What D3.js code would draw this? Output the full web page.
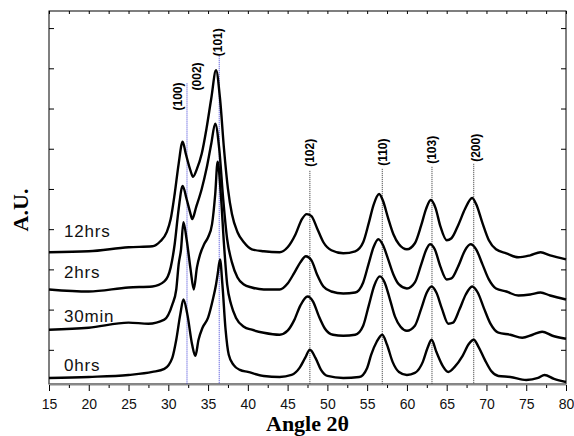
<!DOCTYPE html>
<html>
<head>
<meta charset="utf-8">
<script src="https://cdn.jsdelivr.net/npm/d3@7"></script>
<style>
  body { margin: 0; background: #fff; }
  svg { display: block; }
</style>
</head>
<body>
<div id="chart"></div>
<script>
// XRD patterns, intensities in a.u. (curves already stacked as drawn)
const curve0hrs = [[15,12],[20,13],[25,15],[28,18],[29.5,21],[30.5,32],[31,50],[31.5,75],[31.9,90],[32.4,75],[33,45],[33.4,34],[33.8,50],[34.3,62],[35,72],[35.6,90],[36.0,105],[36.2,115],[36.5,130],[36.8,105],[37.2,60],[37.6,35],[38.2,25],[39,20],[40,18],[42,14],[44,13],[45.5,15],[46.5,22],[47.2,32],[47.8,40],[48.5,32],[49.2,20],[50,14],[52,12],[54,13],[55,22],[55.5,35],[56.2,48],[56.9,55],[57.5,45],[58.2,28],[59,18],[60,15],[61,17],[62,28],[62.6,42],[63.1,50],[63.7,38],[64.5,24],[65.2,18],[66,23],[67,34],[67.8,46],[68.4,50],[69,43],[69.8,30],[70.6,19],[71.5,14],[73,13],[75,10],[76.5,12],[77.3,15],[78.5,11],[80,8]];
const curve30min = [[15,60],[20,62],[25,67],[27.5,66],[29.5,70],[30.5,85],[31,100],[31.3,125],[31.6,140],[31.9,167],[32.3,150],[32.8,120],[33.2,100],[33.6,122],[34.0,135],[34.5,145],[35.0,152],[35.5,165],[35.9,195],[36.2,227],[36.6,195],[37.0,145],[37.4,105],[37.9,85],[38.5,72],[39.5,63],[40.5,60],[42,57],[44,55],[45,59],[45.8,69],[46.6,84],[47.5,93],[48.2,88],[48.9,74],[49.7,61],[50.7,55],[52,54],[53.5,55],[54.5,64],[55.2,84],[55.9,104],[56.6,113],[57.2,107],[57.8,92],[58.5,73],[59.2,63],[60,59],[61,64],[61.8,81],[62.5,97],[63.1,103],[63.7,97],[64.4,81],[65.2,66],[65.8,67],[66.6,80],[67.4,95],[68.2,103],[68.9,97],[69.7,81],[70.5,66],[71.5,57],[73,55],[74.5,52],[75.8,55],[77,58],[78.3,54],[80,51]];
const curve2hrs = [[15,100],[20,98],[25,102],[28,103],[29.5,108],[30.3,122],[30.8,145],[31.3,180],[31.8,203],[32.3,190],[32.8,175],[33.0,170],[33.5,182],[34.2,200],[34.8,220],[35.4,245],[35.9,265],[36.4,240],[36.9,190],[37.4,150],[38,127],[38.7,112],[39.5,105],[40.5,102],[42,100],[44,100],[45,106],[45.8,116],[46.6,127],[47.3,133],[48,129],[48.7,115],[49.5,103],[50.5,98],[52,96],[53.5,97],[54.5,107],[55.2,126],[55.8,142],[56.4,150],[57,144],[57.6,131],[58.3,115],[59,105],[60,101],[61,107],[61.8,125],[62.4,139],[62.9,145],[63.5,140],[64.2,123],[65,110],[65.6,111],[66.5,124],[67.3,139],[68,145],[68.7,140],[69.5,125],[70.3,110],[71.2,101],[72.5,98],[74,94],[75.5,95],[76.8,97],[78,94],[80,90]];
const curve12hrs = [[15,137],[20,138],[25,142],[28,143],[29,148],[29.8,157],[30.3,170],[30.8,195],[31.3,225],[31.8,247],[32.2,235],[32.8,218],[33.1,212],[33.6,220],[34.2,235],[34.8,260],[35.4,290],[36.0,318],[36.5,290],[37,240],[37.5,200],[38,175],[38.7,157],[39.5,147],[40.5,140],[42,138],[44,137],[45,142],[46,155],[46.8,170],[47.4,175],[48,173],[48.7,161],[49.5,147],[50.5,139],[52,136],[53.5,138],[54.5,147],[55.2,166],[55.8,184],[56.5,195],[57,188],[57.6,172],[58.3,155],[59,145],[60,140],[61,146],[61.8,164],[62.4,180],[63,189],[63.6,181],[64.2,163],[65,149],[65.6,151],[66.5,165],[67.3,180],[68.2,191],[68.7,185],[69.5,166],[70.3,149],[71.2,140],[72.5,136],[74,132],[75.5,134],[76.8,137],[78,134],[80,130]];

const seriesNames = ["0hrs", "30min", "2hrs", "12hrs"];
const seriesData = [curve0hrs, curve30min, curve2hrs, curve12hrs];
const seriesLabelY = [371, 322, 278, 237]; // baseline of the name label, px

// reflection markers
const refAngles = [32.35, 36.4, 47.8, 56.9, 63.15, 68.4];
const refTops = [305, 332, 218, 220, 222, 225];
const refColors = ["#3b3bd6", "#3b3bd6", "#333", "#333", "#333", "#333"];
const hklLabels = ["(100)", "(002)", "(101)", "(102)", "(110)", "(103)", "(200)"];
const hklAngles = [31.1, 33.5, 36.15, 47.8, 56.9, 63.15, 68.6];
const hklBottoms = [278, 298, 332, 222, 223, 225, 227];

const xMajorTicks = [15, 20, 25, 30, 35, 40, 45, 50, 55, 60, 65, 70, 75, 80];
const xMinorTicks = [17.5, 22.5, 27.5, 32.5, 37.5, 42.5, 47.5, 52.5, 57.5, 62.5, 67.5, 72.5, 77.5];
const yTicks = [40, 80, 120, 160, 200, 240, 280, 320, 360];

const width = 574, height = 436;
const plotLeft = 49, plotRight = 566, plotTop = 11, plotBottom = 384;

const svg = d3.select("#chart")
    .append("svg")
    .attr("width", width)
    .attr("height", height);

const x = d3.scaleLinear().domain([15, 80]).range([plotLeft, plotRight]);
const y = d3.scaleLinear().domain([6, 377]).range([plotBottom, plotTop]);

// frame
svg.append("rect")
    .attr("x", plotLeft).attr("y", plotTop)
    .attr("width", plotRight - plotLeft).attr("height", plotBottom - plotTop)
    .attr("fill", "none").attr("stroke", "#000").attr("stroke-width", 1);

// top ticks (inward)
svg.append("g")
    .attr("transform", `translate(0,${plotTop})`)
    .call(d3.axisBottom(x).tickValues(xMajorTicks.concat(xMinorTicks)).tickSize(3).tickFormat(""))
    .call(g => g.select(".domain").remove());

// left / right ticks (inward)
svg.append("g")
    .attr("transform", `translate(${plotLeft},0)`)
    .call(d3.axisRight(y).tickValues(yTicks).tickSize(5).tickFormat(""))
    .call(g => g.select(".domain").remove());
svg.append("g")
    .attr("transform", `translate(${plotRight},0)`)
    .call(d3.axisLeft(y).tickValues(yTicks).tickSize(5).tickFormat(""))
    .call(g => g.select(".domain").remove());

// bottom axis
svg.append("line")
    .attr("x1", plotLeft).attr("x2", plotRight)
    .attr("y1", plotBottom + 0.5).attr("y2", plotBottom + 0.5)
    .attr("stroke", "#888").attr("stroke-width", 2);

const bottomAxis = svg.append("g")
    .attr("transform", `translate(0,${plotBottom + 1})`)
    .call(d3.axisBottom(x).tickValues(xMajorTicks).tickSize(6).tickPadding(8))
    .call(g => g.select(".domain").remove());
bottomAxis.selectAll("text")
    .attr("font-family", "Liberation Sans, Arial, sans-serif")
    .attr("font-size", "14px")
    .attr("fill", "#111");

svg.append("g")
    .attr("transform", `translate(0,${plotBottom + 1})`)
    .call(d3.axisBottom(x).tickValues(xMinorTicks).tickSize(3).tickFormat(""))
    .call(g => g.select(".domain").remove());

// reference lines
svg.append("g")
    .selectAll("line")
    .data(refAngles)
    .join("line")
    .attr("x1", d => x(d)).attr("x2", d => x(d))
    .attr("y1", (d, i) => y(refTops[i]))
    .attr("y2", plotBottom)
    .attr("stroke", (d, i) => refColors[i])
    .attr("stroke-width", 1)
    .attr("stroke-dasharray", "1,1");

// curves
const line = d3.line()
    .x(d => x(d[0]))
    .y(d => y(d[1]))
    .curve(d3.curveMonotoneX);

svg.append("g")
    .selectAll("path")
    .data(seriesData)
    .join("path")
    .attr("d", line)
    .attr("fill", "none")
    .attr("stroke", "#000")
    .attr("stroke-width", 2.4)
    .attr("stroke-linejoin", "round");

// series names
svg.append("g")
    .selectAll("text")
    .data(seriesNames)
    .join("text")
    .attr("x", 64)
    .attr("y", (d, i) => seriesLabelY[i])
    .attr("font-family", "Liberation Sans, Arial, sans-serif")
    .attr("font-size", "17px")
    .attr("letter-spacing", "0.8px")
    .attr("fill", "#111")
    .text(d => d);

// hkl labels, rotated
svg.append("g")
    .selectAll("text")
    .data(hklLabels)
    .join("text")
    .attr("transform", (d, i) => `translate(${x(hklAngles[i]) + 4.5},${y(hklBottoms[i])}) rotate(-90)`)
    .attr("font-family", "Liberation Sans, Arial, sans-serif")
    .attr("font-size", "12px")
    .attr("font-weight", "bold")
    .attr("fill", "#000")
    .text(d => d);

// axis titles
svg.append("text")
    .attr("x", (plotLeft + plotRight) / 2)
    .attr("y", 431)
    .attr("text-anchor", "middle")
    .attr("font-family", "Liberation Serif, Times New Roman, serif")
    .attr("font-weight", "bold")
    .attr("font-size", "22px")
    .text("Angle 2θ");

svg.append("text")
    .attr("transform", "translate(28,210) rotate(-90)")
    .attr("text-anchor", "middle")
    .attr("font-family", "Liberation Serif, Times New Roman, serif")
    .attr("font-weight", "bold")
    .attr("font-size", "22px")
    .text("A.U.");
</script>
</body>
</html>
